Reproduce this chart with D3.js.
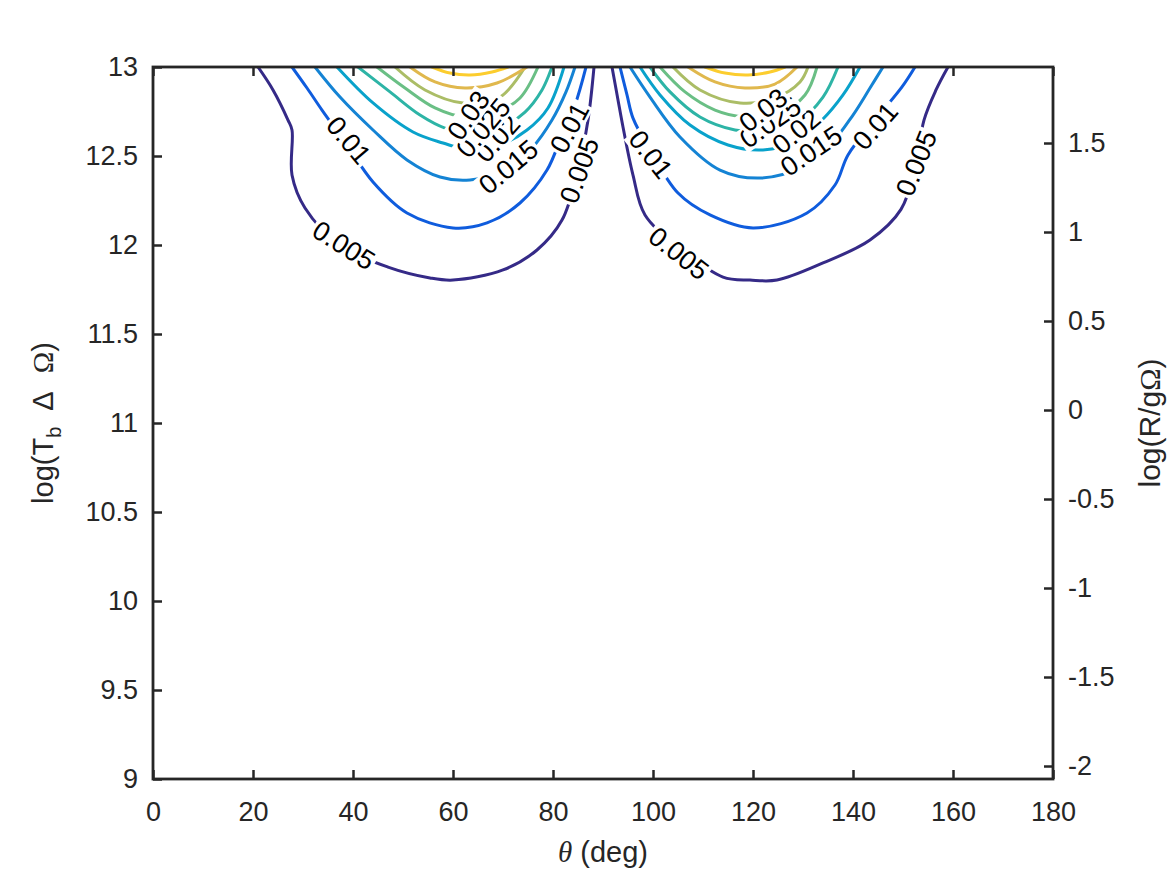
<!DOCTYPE html>
<html>
<head>
<meta charset="utf-8">
<script src="https://cdn.jsdelivr.net/npm/d3@7"></script>
<style>
body { margin: 0; background: #fff; }
text { font-family: "Liberation Sans", Arial, Helvetica, sans-serif; fill: #262626; }
</style>
</head>
<body>
<script>
// contour levels and their parula colours
const levels = [0.005, 0.01, 0.015, 0.02, 0.025, 0.03, 0.035, 0.04, 0.045]
const levelColors = ['#352a87', '#0f5cdd', '#1483d4', '#09a2cb', '#2db4a6', '#6abf85', '#abbd66', '#e0b84d', '#fccd2e']

// traced contour lines, [theta (deg), log(Tb dOmega)], one line per level
const leftLobe = [
	[[21.0,13],[24.0,12.871],[27.0,12.702],[27.8,12.646],[27.8,12.393],[30.4,12.208],[37.4,12.0],[47.0,11.876],[55.4,11.815],[60.0,11.803],[70.0,11.86],[76.8,11.972],[81.8,12.14],[85.0,12.421],[87.0,12.702],[88.2,13]],
	[[27.8,13],[30.8,12.882],[33.8,12.758],[38.8,12.562],[44.0,12.354],[50.8,12.18],[60.0,12.096],[66.8,12.124],[73.4,12.236],[78.8,12.421],[81.8,12.618],[84.4,12.787],[86.6,13]],
	[[32.4,13],[37.4,12.831],[44.0,12.646],[50.8,12.478],[57.4,12.382],[63.4,12.365],[70.4,12.421],[75.8,12.545],[79.8,12.702],[82.6,12.86],[84.4,13]],
	[[36.8,13],[44.0,12.798],[52.0,12.635],[58.0,12.573],[63.4,12.534],[69.4,12.562],[74.8,12.646],[79.0,12.77],[82.2,13]],
	[[41.0,13],[47.4,12.86],[53.4,12.73],[58.4,12.657],[63.4,12.635],[69.4,12.657],[74.4,12.747],[77.8,12.871],[79.8,13]],
	[[44.8,13],[50.4,12.882],[56.4,12.77],[62.4,12.719],[68.4,12.742],[73.4,12.826],[77.0,13]],
	[[48.4,13],[54.4,12.871],[62.0,12.798],[69.4,12.831],[74.4,13]],
	[[51.4,13],[56.4,12.916],[62.4,12.882],[68.8,12.91],[74.8,13]],
	[[55.8,13],[59.4,12.966],[63.4,12.955],[67.8,12.972],[71.0,13]]
]

const rightLobe = [
	[[91.8,13],[93.0,12.815],[94.0,12.663],[96.0,12.393],[98.4,12.169],[105.4,11.983],[114.0,11.82],[119.4,11.803],[124.8,11.803],[134.0,11.899],[143.4,12.028],[149.6,12.2],[152.4,12.43],[154.2,12.702],[156.6,12.871],[159.0,13]],
	[[93.4,13],[94.8,12.843],[96.0,12.713],[99.4,12.534],[105.0,12.292],[111.4,12.169],[120.0,12.096],[130.8,12.18],[136.4,12.337],[139.0,12.506],[144.4,12.702],[149.8,12.888],[152.4,13]],
	[[95.4,13],[99.4,12.831],[105.4,12.607],[113.4,12.421],[121.4,12.376],[129.4,12.433],[135.4,12.562],[140.0,12.73],[143.4,12.882],[146.0,13]],
	[[97.4,13],[101.4,12.843],[107.4,12.674],[115.0,12.562],[122.0,12.534],[128.4,12.579],[133.8,12.702],[138.0,12.843],[141.4,13]],
	[[99.4,13],[103.4,12.86],[109.4,12.719],[116.4,12.646],[122.4,12.64],[129.4,12.702],[134.0,12.831],[137.0,13]],
	[[101.4,13],[106.4,12.86],[112.4,12.758],[118.4,12.719],[125.4,12.742],[130.4,12.843],[132.8,13]],
	[[104.0,13],[109.4,12.871],[117.4,12.798],[124.4,12.826],[129.4,12.916],[131.0,13]],
	[[107.0,13],[112.4,12.916],[118.4,12.882],[124.4,12.904],[128.8,13]],
	[[110.4,13],[114.4,12.966],[119.0,12.955],[123.4,12.972],[126.4,13]]
]

// inline contour labels: text, theta, logT, rotation (deg)
const labelText  = ['0.005','0.01','0.015','0.02','0.025','0.03','0.01','0.005',
                    '0.005','0.01','0.015','0.02','0.025','0.03','0.01','0.005']
const labelTheta = [38.2, 39.2, 71.0, 68.8, 66.0, 63.0, 83.2, 85.2,
                    105.2, 99.6, 131.6, 128.6, 123.4, 122.0, 144.4, 152.6]
const labelLogT  = [12.0, 12.59, 12.44, 12.6, 12.66, 12.73, 12.66, 12.42,
                    11.955, 12.51, 12.53, 12.64, 12.69, 12.76, 12.67, 12.46]
const labelAngle = [32, 50, -40, -48, -50, -55, -62, -70,
                    38, 52, -34, -40, -35, -38, -49, -68]

// axes
const xTicks = [0, 20, 40, 60, 80, 100, 120, 140, 160, 180]
const yTicks = [9, 9.5, 10, 10.5, 11, 11.5, 12, 12.5, 13]
const rTicks = [-2, -1.5, -1, -0.5, 0, 0.5, 1, 1.5]
const rightDomain = [-2.073, 1.927]

const W = 1167, H = 875
const margin = {left: 153, right: 114, top: 67, bottom: 96}
const axisColor = '#262626'

const svg = d3.select('body').append('svg')
	.attr('width', W)
	.attr('height', H)

const x = d3.scaleLinear().domain([0, 180]).range([margin.left, W - margin.right])
const y = d3.scaleLinear().domain([9, 13]).range([H - margin.bottom, margin.top])
const yR = d3.scaleLinear().domain(rightDomain).range([H - margin.bottom, margin.top])

svg.append('clipPath').attr('id', 'plot')
	.append('rect')
	.attr('x', x(0)).attr('y', y(13))
	.attr('width', x(180) - x(0)).attr('height', y(9) - y(13))

//contour lines
const line = d3.line()
	.x(d => x(d[0]))
	.y(d => y(d[1]))
	.curve(d3.curveCatmullRom.alpha(0.5))

const lines = svg.append('g').attr('clip-path', 'url(#plot)')
;[leftLobe, rightLobe].forEach(lobe => {
	lobe.forEach((pts, i) => {
		lines.append('path')
			.attr('d', line(pts))
			.attr('fill', 'none')
			.attr('stroke', levelColors[i])
			.attr('stroke-width', 3)
			.attr('stroke-linecap', 'round')
	})
})

//labels, with a white box cutting the line under them
const labels = svg.append('g')
labelText.forEach((t, i) => {
	const g = labels.append('g')
		.attr('transform', 'translate(' + x(labelTheta[i]) + ',' + y(labelLogT[i]) + ') rotate(' + labelAngle[i] + ')')
	const txt = g.append('text')
		.attr('text-anchor', 'middle')
		.attr('dy', '0.36em')
		.style('font-size', '27px')
		.style('fill', '#000')
		.text(t)
	const b = txt.node().getBBox()
	g.insert('rect', 'text')
		.attr('x', b.x - 2).attr('y', b.y + 3)
		.attr('width', b.width + 4).attr('height', b.height - 6)
		.attr('fill', '#fff')
})

//axes, ticks pointing inward
const fontSize = '27px'
const axBottom = svg.append('g')
	.attr('transform', 'translate(0,' + y(9) + ')')
	.call(d3.axisBottom(x).tickValues(xTicks).tickFormat(d3.format('d')).tickSize(-9).tickPadding(23))
const axTop = svg.append('g')
	.attr('transform', 'translate(0,' + y(13) + ')')
	.call(d3.axisTop(x).tickValues(xTicks).tickFormat('').tickSize(-9))
const axLeft = svg.append('g')
	.attr('transform', 'translate(' + x(0) + ',0)')
	.call(d3.axisLeft(y).tickValues(yTicks).tickFormat(d3.format('')).tickSize(-9).tickPadding(15))
const axRight = svg.append('g')
	.attr('transform', 'translate(' + x(180) + ',0)')
	.call(d3.axisRight(yR).tickValues(rTicks).tickFormat(d => String(d)).tickSize(-9).tickPadding(15))

;[axBottom, axTop, axLeft, axRight].forEach(a => {
	a.select('.domain').remove()
	a.selectAll('line').attr('stroke', axisColor).attr('stroke-width', 2.5)
	a.selectAll('text').style('font-size', fontSize).style('fill', axisColor).attr('font-family', null)
})

//box
svg.append('rect')
	.attr('x', x(0)).attr('y', y(13))
	.attr('width', x(180) - x(0)).attr('height', y(9) - y(13))
	.attr('fill', 'none')
	.attr('stroke', axisColor)
	.attr('stroke-width', 2.8)

//axis labels
const xl = svg.append('text')
	.attr('x', (x(0) + x(180)) / 2)
	.attr('y', 862)
	.attr('text-anchor', 'middle')
	.style('font-size', '29px')
xl.append('tspan').style('font-family', '"Liberation Serif", serif').style('font-style', 'italic').text('θ')
xl.append('tspan').text(' (deg)')

const yl = svg.append('text')
	.attr('transform', 'translate(53,' + y(11) + ') rotate(-90)')
	.attr('text-anchor', 'middle')
	.style('font-size', '29px')
yl.append('tspan').text('log(T')
yl.append('tspan').attr('dy', 8).style('font-size', '20px').text('b')
yl.append('tspan').attr('dy', -8).attr('dx', 16).text('Δ')
yl.append('tspan').attr('dx', 18).style('font-family', '"Liberation Serif", serif').text('Ω')
yl.append('tspan').text(')')

const rl = svg.append('text')
	.attr('transform', 'translate(1160,' + y(11) + ') rotate(-90)')
	.attr('text-anchor', 'middle')
	.style('font-size', '30px')
rl.append('tspan').text('log(R/g')
rl.append('tspan').style('font-family', '"Liberation Serif", serif').text('Ω')
rl.append('tspan').text(')')
</script>
</body>
</html>
